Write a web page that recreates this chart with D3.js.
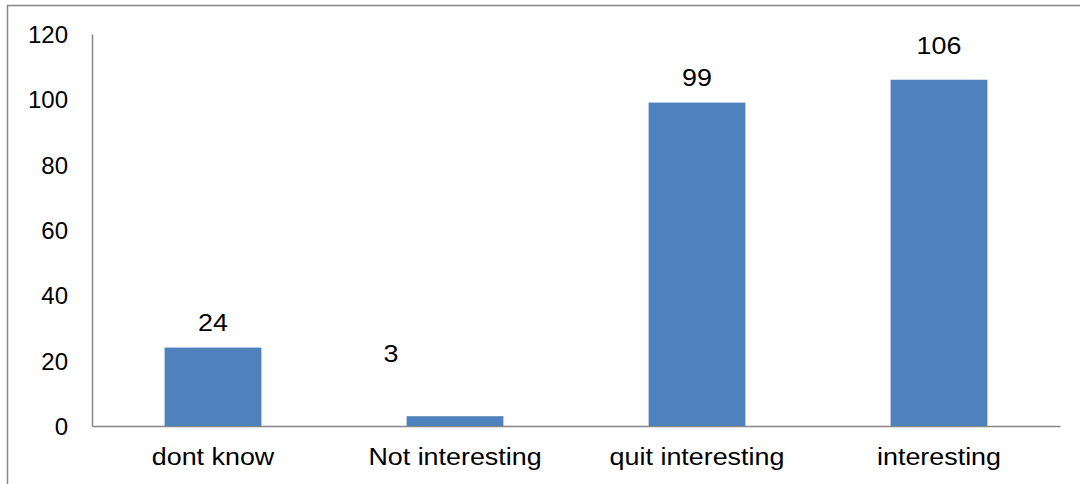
<!DOCTYPE html>
<html>
<head>
<meta charset="utf-8">
<script src="https://cdn.jsdelivr.net/npm/d3@7"></script>
<style>
  body { margin: 0; background: #fff; }
  text { font-family: "Liberation Sans", Arial, sans-serif; fill: #000; }
</style>
</head>
<body>
<div id="chart"></div>
<script>

// chart data
const categories = ["dont know", "Not interesting", "quit interesting", "interesting"];
const counts = [24, 3, 99, 106];
const yTicks = [0, 20, 40, 60, 80, 100, 120];

const W = 1080, H = 484;
const margin = {top: 34, right: 20, bottom: 58, left: 92};
const width = 1060 - margin.left;
const height = 426 - margin.top;
const stretch = 1.12; // the source picture is a bit wider than tall

let svg = d3.select("#chart").append("svg")
    .attr("width", W)
    .attr("height", H);

// outer frame (only top + left show in the picture)
svg.append("path")
    .attr("d", "M7.5," + H + " V5.5 H" + W)
    .attr("fill", "none")
    .attr("stroke", "#868686")
    .attr("stroke-width", 1.5);

let g = svg.append("g")
    .attr("transform", "translate(" + margin.left + "," + margin.top + ")");

// scales
let x = d3.scaleBand()
    .domain(categories)
    .range([0, width])
    .paddingInner(0.6)
    .paddingOuter(0.3);

let y = d3.scaleLinear()
    .domain([0, 120])
    .range([height, 0]);

// axes
let yAxis = d3.axisLeft(y).tickValues(yTicks).tickSize(0).tickPadding(24);
let xAxis = d3.axisBottom(x).tickSize(0).tickPadding(22);

let gy = g.append("g").attr("class", "y-axis").call(yAxis);
let gx = g.append("g").attr("class", "x-axis")
    .attr("transform", "translate(0," + height + ")")
    .call(xAxis);

[gy, gx].forEach(a => {
    a.select(".domain").attr("stroke", "#868686").attr("stroke-width", 1.5);
    a.selectAll("text").style("font-size", "24px").attr("fill", "#000")
        .style("font-family", "'Liberation Sans', Arial, sans-serif");
});
gy.selectAll("text").attr("dy", "0.35em");
gx.selectAll("text").attr("dy", "0.71em").attr("transform", "scale(" + stretch + ",1)");

// bars
g.selectAll("rect.bar")
    .data(counts)
    .enter()
    .append("rect")
    .attr("class", "bar")
    .attr("x", (d, i) => x(categories[i]))
    .attr("y", d => y(d))
    .attr("width", x.bandwidth())
    .attr("height", d => height - y(d))
    .attr("fill", "#4F81BD");

// value labels (Excel nudged a couple of them by hand)
const labelNudge = {"Not interesting": [-64, -38], "interesting": [0, -9]};

g.selectAll("text.val")
    .data(counts)
    .enter()
    .append("text")
    .attr("class", "val")
    .attr("text-anchor", "middle")
    .attr("dy", "0.35em")
    .style("font-size", "24px")
    .attr("transform", (d, i) => {
        let n = labelNudge[categories[i]] || [0, 0];
        let lx = x(categories[i]) + x.bandwidth() / 2 + n[0];
        let ly = y(d) - 25 + n[1];
        return "translate(" + lx + "," + ly + ") scale(" + stretch + ",1)";
    })
    .text(d => d);

</script>
</body>
</html>
